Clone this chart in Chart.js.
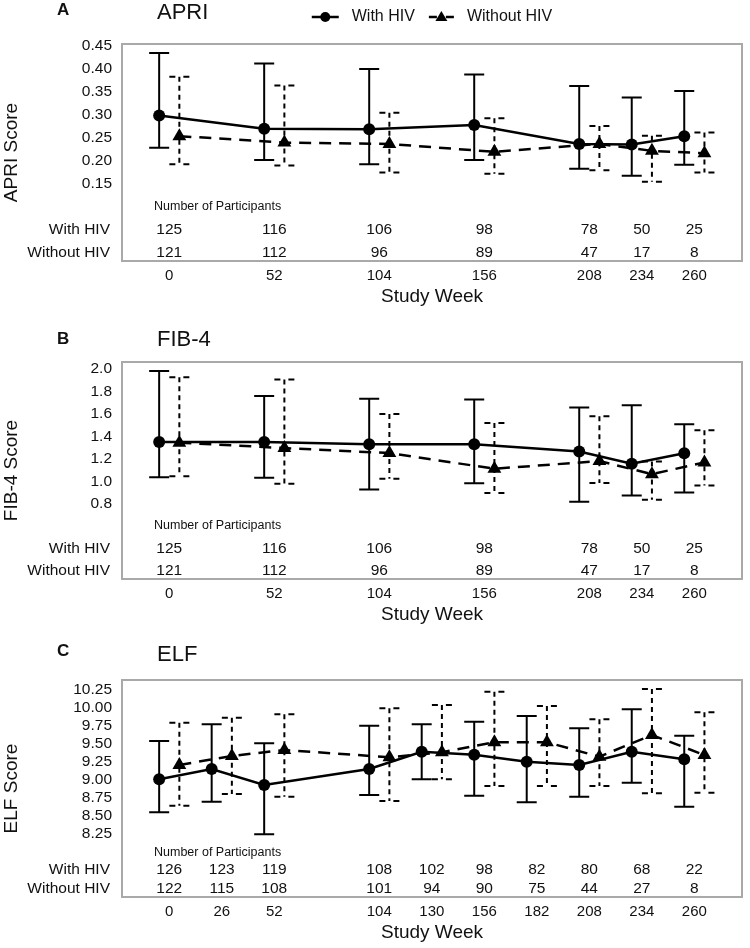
<!DOCTYPE html>
<html>
<head>
<meta charset="utf-8">
<script src="https://cdn.jsdelivr.net/npm/chart.js@4.4.1/dist/chart.umd.min.js"></script>
<style>
  body { margin: 0; background: #fff; overflow: hidden; }
  canvas { position: absolute; left: 0; }
</style>
</head>
<body>
<canvas id="apri" width="750" height="312" style="top:0"></canvas>
<canvas id="fib4" width="750" height="312" style="top:318px"></canvas>
<canvas id="elf" width="750" height="312" style="top:636px"></canvas>
<script>
// study weeks
var weeksAB = [0, 52, 104, 156, 208, 234, 260];
var weeksC = [0, 26, 52, 104, 130, 156, 182, 208, 234, 260];

// participants per visit
var nHivAB = [125, 116, 106, 98, 78, 50, 25];
var nNoAB = [121, 112, 96, 89, 47, 17, 8];
var nHivC = [126, 123, 119, 108, 102, 98, 82, 80, 68, 22];
var nNoC = [122, 115, 108, 101, 94, 90, 75, 44, 27, 8];

// APRI
var apriHiv = [0.299, 0.270, 0.269, 0.278, 0.237, 0.236, 0.254];
var apriHivLo = [0.229, 0.202, 0.193, 0.202, 0.183, 0.168, 0.192];
var apriHivHi = [0.435, 0.412, 0.400, 0.388, 0.363, 0.338, 0.352];
var apriNo = [0.254, 0.240, 0.237, 0.220, 0.237, 0.222, 0.217];
var apriNoLo = [0.193, 0.190, 0.175, 0.172, 0.180, 0.155, 0.175];
var apriNoHi = [0.383, 0.364, 0.305, 0.293, 0.276, 0.255, 0.262];
var apriTicks = [0.15, 0.20, 0.25, 0.30, 0.35, 0.40, 0.45];

// FIB-4
var fibHiv = [1.350, 1.350, 1.330, 1.330, 1.267, 1.158, 1.250];
var fibHivLo = [1.038, 1.032, 0.928, 0.984, 0.820, 0.874, 0.901];
var fibHivHi = [1.982, 1.761, 1.735, 1.729, 1.658, 1.678, 1.508];
var fibNo = [1.345, 1.297, 1.252, 1.113, 1.181, 1.065, 1.169];
var fibNoLo = [1.047, 0.979, 1.023, 0.898, 0.987, 0.838, 0.963];
var fibNoHi = [1.926, 1.908, 1.601, 1.520, 1.580, 1.178, 1.455];
var fibTicks = [0.8, 1.0, 1.2, 1.4, 1.6, 1.8, 2.0];

// ELF
var elfHiv = [9.000, 9.143, 8.921, 9.143, 9.383, 9.342, 9.245, 9.199, 9.383, 9.278];
var elfHivLo = [8.541, 8.689, 8.236, 8.782, 9.000, 8.772, 8.681, 8.758, 8.953, 8.620];
var elfHivHi = [9.532, 9.764, 9.500, 9.745, 9.764, 9.800, 9.879, 9.708, 9.972, 9.606];
var elfNo = [9.199, 9.324, 9.407, 9.306, 9.375, 9.514, 9.514, 9.314, 9.615, 9.337];
var elfNoLo = [8.634, 8.796, 8.758, 8.699, 9.000, 8.907, 8.907, 8.907, 8.806, 8.814];
var elfNoHi = [9.786, 9.856, 9.903, 9.986, 10.032, 10.217, 10.018, 9.833, 10.254, 9.931];
var elfTicks = [8.25, 8.50, 8.75, 9.00, 9.25, 9.50, 9.75, 10.00, 10.25];

var FONT = "'Liberation Sans', Arial, sans-serif";
var INK = '#111';
var DODGE = 5; // weeks each group is shifted sideways

Chart.defaults.font.family = FONT;
Chart.defaults.color = INK;

// grey box round the plot area
var frame = {
  id: 'frame',
  beforeDatasetsDraw: function (chart) {
    var a = chart.chartArea, ctx = chart.ctx;
    ctx.save();
    ctx.strokeStyle = '#a9a9a9';
    ctx.lineWidth = 2;
    ctx.strokeRect(a.left, a.top, a.right - a.left, a.bottom - a.top);
    ctx.restore();
  }
};

// whiskers, solid for with HIV, dashed for without
var errorBars = {
  id: 'errorBars',
  beforeDatasetsDraw: function (chart) {
    var ctx = chart.ctx, x = chart.scales.x, y = chart.scales.y;
    chart.data.datasets.forEach(function (ds) {
      ctx.save();
      ctx.strokeStyle = '#000';
      ctx.lineWidth = 2;
      ds.data.forEach(function (p, i) {
        var px = x.getPixelForValue(p.x);
        var top = y.getPixelForValue(ds.hi[i]);
        var bot = y.getPixelForValue(ds.lo[i]);
        ctx.setLineDash(ds.dashed ? [5, 4] : []);
        ctx.beginPath();
        ctx.moveTo(px, top);
        ctx.lineTo(px, bot);
        ctx.stroke();
        ctx.setLineDash(ds.dashed ? [6, 8] : []);
        ctx.beginPath();
        ctx.moveTo(px - 10, top); ctx.lineTo(px + 10, top);
        ctx.moveTo(px - 10, bot); ctx.lineTo(px + 10, bot);
        ctx.stroke();
      });
      ctx.restore();
    });
  }
};

function countsPlugin(p) {
  return {
    id: 'counts',
    afterDraw: function (chart) {
      var ctx = chart.ctx, a = chart.chartArea, x = chart.scales.x;
      ctx.save();
      ctx.fillStyle = INK;
      ctx.textBaseline = 'middle';
      ctx.font = '12.5px ' + FONT;
      ctx.textAlign = 'left';
      ctx.fillText('Number of Participants', a.left + 32, a.bottom - p.rows[0]);
      ctx.font = '15.5px ' + FONT;
      ctx.textAlign = 'right';
      ctx.fillText('With HIV', a.left - 12, a.bottom - p.rows[1]);
      ctx.fillText('Without HIV', a.left - 12, a.bottom - p.rows[2]);
      ctx.textAlign = 'center';
      p.weeks.forEach(function (w, i) {
        var px = x.getPixelForValue(w);
        ctx.fillText(String(p.nHiv[i]), px, a.bottom - p.rows[1]);
        ctx.fillText(String(p.nNo[i]), px, a.bottom - p.rows[2]);
      });
      ctx.restore();
    }
  };
}

function titlePlugin(p) {
  return {
    id: 'panelTitle',
    afterDraw: function (chart) {
      var ctx = chart.ctx;
      ctx.save();
      ctx.fillStyle = INK;
      ctx.textBaseline = 'middle';
      ctx.textAlign = 'left';
      ctx.font = 'bold 17px ' + FONT;
      ctx.fillText(p.letter, 57, p.letterY);
      ctx.font = '22px ' + FONT;
      ctx.fillText(p.name, 157, p.nameY);
      ctx.restore();
    }
  };
}

var legendPlugin = {
  id: 'topLegend',
  afterDraw: function (chart) {
    var ctx = chart.ctx, a = chart.chartArea;
    var ds = chart.data.datasets;
    var y = 17;
    ctx.save();
    ctx.font = '16px ' + FONT;
    var w0 = ctx.measureText(ds[0].label).width;
    var w1 = ctx.measureText(ds[1].label).width;
    var total = 27 + 13 + w0 + 14 + 25 + 13 + w1;
    var x = (a.left + a.right) / 2 - total / 2;
    ctx.strokeStyle = '#000';
    ctx.fillStyle = '#000';
    ctx.lineWidth = 2.5;
    // solid line + dot
    ctx.beginPath();
    ctx.moveTo(x, y); ctx.lineTo(x + 27, y);
    ctx.stroke();
    ctx.beginPath();
    ctx.arc(x + 13.5, y, 5, 0, Math.PI * 2);
    ctx.fill();
    x += 27 + 13;
    ctx.fillStyle = INK;
    ctx.textBaseline = 'middle';
    ctx.fillText(ds[0].label, x, y);
    x += w0 + 14;
    // dashed line + triangle
    ctx.fillStyle = '#000';
    ctx.beginPath();
    ctx.moveTo(x, y); ctx.lineTo(x + 8, y);
    ctx.moveTo(x + 17, y); ctx.lineTo(x + 25, y);
    ctx.stroke();
    ctx.beginPath();
    ctx.moveTo(x + 12.5, y - 6);
    ctx.lineTo(x + 18.5, y + 4);
    ctx.lineTo(x + 6.5, y + 4);
    ctx.closePath();
    ctx.fill();
    x += 25 + 13;
    ctx.fillStyle = INK;
    ctx.fillText(ds[1].label, x, y);
    ctx.restore();
  }
};

function makePanel(id, p) {
  var hivPts = p.weeks.map(function (w, i) { return { x: w - DODGE, y: p.hiv[i] }; });
  var noPts = p.weeks.map(function (w, i) { return { x: w + DODGE, y: p.no[i] }; });
  var plugins = [frame, errorBars, countsPlugin(p), titlePlugin(p)];
  if (p.legend) plugins.push(legendPlugin);
  var canvas = document.getElementById(id);
  return new Chart(canvas, {
    type: 'line',
    data: {
      datasets: [
        {
          label: 'With HIV',
          data: hivPts, lo: p.hivLo, hi: p.hivHi, dashed: false,
          borderColor: '#000', backgroundColor: '#000', borderWidth: 2.5,
          pointStyle: 'circle', pointRadius: 6,
          pointBackgroundColor: '#000', pointBorderColor: '#000', pointBorderWidth: 0,
          tension: 0
        },
        {
          label: 'Without HIV',
          data: noPts, lo: p.noLo, hi: p.noHi, dashed: true,
          borderColor: '#000', backgroundColor: '#000', borderWidth: 2.5,
          borderDash: [12, 8],
          pointStyle: 'triangle', pointRadius: 8,
          pointBackgroundColor: '#000', pointBorderColor: '#000', pointBorderWidth: 0,
          tension: 0
        }
      ]
    },
    options: {
      responsive: false,
      animation: false,
      layout: { padding: { top: 44, right: 4, left: 0, bottom: 0 } },
      plugins: { legend: { display: false }, tooltip: { enabled: false } },
      scales: {
        x: {
          type: 'linear', min: -23.4, max: 283.6,
          grid: { display: false, drawTicks: false },
          border: { display: false },
          afterBuildTicks: function (ax) {
            ax.ticks = p.weeks.map(function (v) { return { value: v }; });
          },
          afterFit: function (ax) { ax.height = canvas.height - 261; },
          ticks: {
            autoSkip: false, maxRotation: 0, padding: 6,
            font: { size: 15 }, color: INK,
            callback: function (v) { return String(v); }
          },
          title: {
            display: true, text: 'Study Week', color: INK,
            font: { size: 19 }, padding: { top: 0, bottom: 3.6 }
          }
        },
        y: {
          min: p.yMin, max: p.yMax,
          grid: { display: false, drawTicks: false },
          border: { display: false },
          afterBuildTicks: function (ax) {
            ax.ticks = p.ticks.map(function (v) { return { value: v }; });
          },
          afterFit: function (ax) { ax.width = 122; },
          ticks: {
            padding: 10, font: { size: 15.5 }, color: INK,
            callback: function (v) { return Number(v).toFixed(p.dec); }
          },
          title: {
            display: true, text: p.yTitle, color: INK,
            font: { size: 19 }, padding: { top: 0, bottom: 0 }
          }
        }
      }
    },
    plugins: plugins
  });
}

makePanel('apri', {
  letter: 'A', name: 'APRI', letterY: 10, nameY: 12.5, legend: true,
  yTitle: 'APRI Score', yMin: -0.0174, yMax: 0.4543, ticks: apriTicks, dec: 2,
  weeks: weeksAB, hiv: apriHiv, hivLo: apriHivLo, hivHi: apriHivHi,
  no: apriNo, noLo: apriNoLo, noHi: apriNoHi,
  nHiv: nHivAB, nNo: nNoAB, rows: [54, 31, 8]
});

makePanel('fib4', {
  letter: 'B', name: 'FIB-4', letterY: 21.5, nameY: 22,
  yTitle: 'FIB-4 Score', yMin: 0.132, yMax: 2.0626, ticks: fibTicks, dec: 1,
  weeks: weeksAB, hiv: fibHiv, hivLo: fibHivLo, hivHi: fibHivHi,
  no: fibNo, noLo: fibNoLo, noHi: fibNoHi,
  nHiv: nHivAB, nNo: nNoAB, rows: [53, 30, 8]
});

makePanel('elf', {
  letter: 'C', name: 'ELF', letterY: 15, nameY: 19,
  yTitle: 'ELF Score', yMin: 7.365, yMax: 10.379, ticks: elfTicks, dec: 2,
  weeks: weeksC, hiv: elfHiv, hivLo: elfHivLo, hivHi: elfHivHi,
  no: elfNo, noLo: elfNoLo, noHi: elfNoHi,
  nHiv: nHivC, nNo: nNoC, rows: [44, 27, 8]
});
</script>
</body>
</html>
